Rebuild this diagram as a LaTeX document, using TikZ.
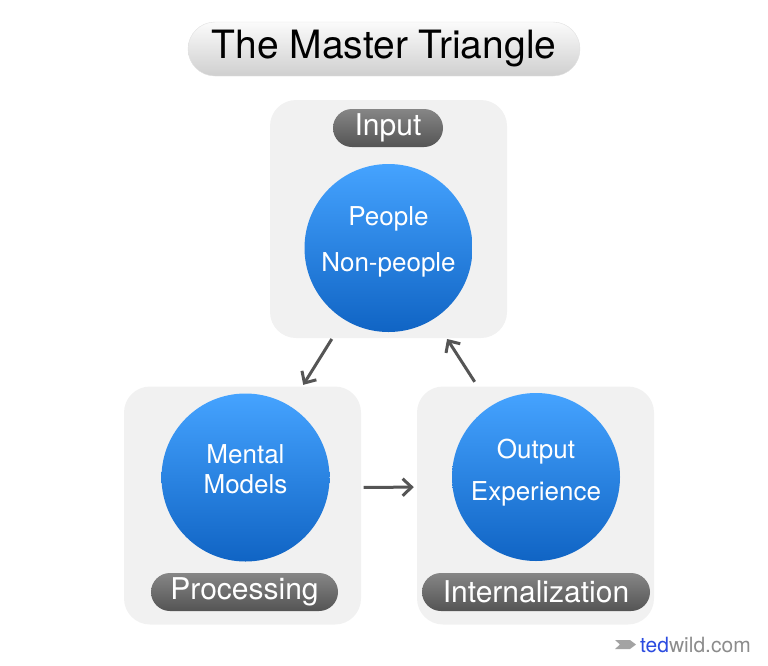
\documentclass[tikz,border=0pt]{standalone}
\usepackage{fontspec}
\setmainfont{TeX Gyre Heros}
\usepackage{tikz}
\usetikzlibrary{arrows.meta,positioning,calc}
\definecolor{panelbg}{HTML}{F1F1F1}
\definecolor{circtop}{HTML}{45A3FF}
\definecolor{circbot}{HTML}{1064C4}
\definecolor{tagtop}{HTML}{868686}
\definecolor{tagbot}{HTML}{545454}
\definecolor{titletop}{HTML}{FBFBFB}
\definecolor{titlebot}{HTML}{CFCFCF}
\definecolor{arrowgray}{HTML}{555555}
\definecolor{tedblue}{HTML}{2B4BE0}
\definecolor{wmgray}{HTML}{8C8C8C}
\tikzset{
  panel/.style    = {fill=panelbg,rounded corners=26pt,minimum width=237pt,
                     minimum height=238pt,inner sep=0pt},
  circ/.style     = {circle,minimum size=168pt,inner sep=0pt,
                     top color=circtop,bottom color=circbot},
  circtxt/.style  = {text=white,align=center,inner sep=0pt,
                     font=\fontsize{26}{30}\selectfont},
  tag/.style      = {rounded corners=19pt,minimum height=38pt,inner sep=0pt,
                     top color=tagtop,bottom color=tagbot,text=white,
                     font=\fontsize{30}{34}\selectfont},
  titlebox/.style = {rounded corners=27pt,minimum height=54pt,
                     minimum width=392pt,inner sep=0pt,draw=black!12,
                     top color=titletop,bottom color=titlebot,
                     font=\fontsize{39}{44}\selectfont},
  flowarr/.style  = {-{Straight Barb[length=9pt,width=17pt]},line width=3pt,
                     draw=arrowgray},
}

\begin{document}
\begin{tikzpicture}[x=1pt,y=-1pt]
  \useasboundingbox (0,0) rectangle (768,665);

  \node[titlebox] (title) at (384,49) {The Master Triangle};

  % three stages
  \node[panel] (inpanel)   at (388.5,219)   {};
  \node[panel] (procpanel) at (242.5,505.5) {};
  \node[panel] (outpanel)  at (535.5,505.5) {};

  \node[circ] (incirc)   at (388.5,248)   {};
  \node[circ] (proccirc) at (245.5,477.5) {};
  \node[circ] (outcirc)  at (536,477)     {};

  \node[circtxt] (intxt)   at ([yshift=6pt]incirc)   {People\\[16pt]Non-people};
  \node[circtxt] (proctxt) at ([yshift=8pt]proccirc) {Mental\\Models};
  \node[circtxt] (outtxt)  at ([yshift=4pt]outcirc)  {Output\\[12pt]Experience};

  \node[tag,minimum width=110pt] (intag)   at (388,128)   {Input};
  \node[tag,minimum width=187pt] (proctag) at (244.5,592) {Processing};
  \node[tag,minimum width=228pt] (outtag)  at (536,592)   {Internalization};

  % cycle
  \draw[flowarr,shorten <=23pt,shorten >=25pt] (incirc) -- (proccirc);
  \draw[flowarr,shorten <=34pt,shorten >=38pt]
        ([yshift=-10pt]proccirc.east) -- ([yshift=-10pt]outcirc.west);
  \draw[flowarr,shorten <=29pt,shorten >=24pt] (outcirc) -- (incirc);

  % watermark
  \fill[wmgray!80] (615,640) -- (630,640) -- (636,644.5) -- (630,649)
        -- (615,649) -- (620,644.5) -- cycle;
  \node[anchor=west,inner sep=0pt,font=\fontsize{21}{24}\selectfont] (wm)
        at (640,645) {\textcolor{tedblue}{ted}\textcolor{wmgray}{wild.com}};
\end{tikzpicture}
\end{document}
